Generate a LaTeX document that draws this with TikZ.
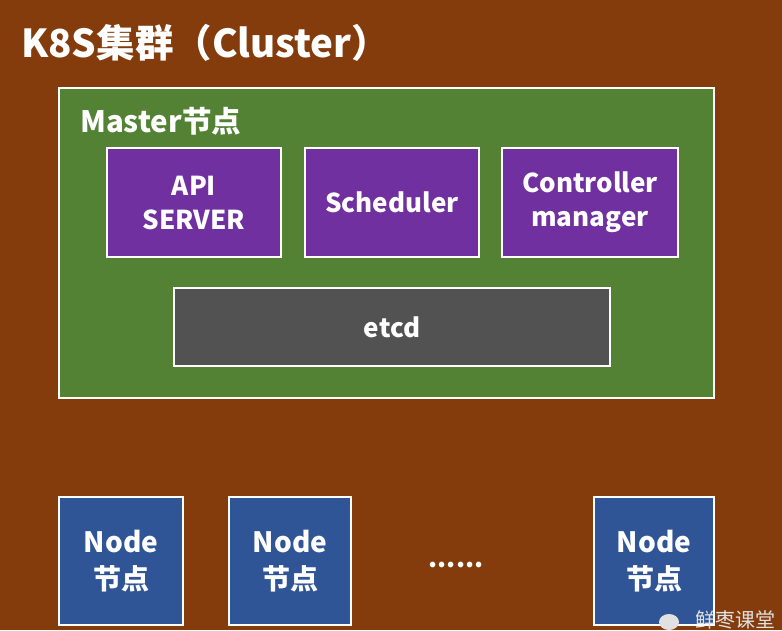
\documentclass[tikz,border=0pt]{standalone}
\usepackage{fontspec}
\setmainfont{Noto Sans CJK SC}
\definecolor{bgbrown}{RGB}{132,60,12}
\definecolor{mgreen}{RGB}{84,130,53}
\definecolor{mpurple}{RGB}{112,48,160}
\definecolor{mgray}{RGB}{82,82,82}
\definecolor{mblue}{RGB}{47,85,151}
\definecolor{wmark}{RGB}{225,225,225}
\begin{document}
\begin{tikzpicture}[x=1pt,y=-1pt,
  box/.style={draw=white, line width=2pt, text=white, align=center, inner sep=0pt,
    font=\bfseries\fontsize{26}{34}\selectfont},
  comp/.style={box, fill=mpurple, minimum height=109pt},
  worker/.style={box, fill=mblue, minimum height=128pt,
    font=\bfseries\fontsize{28}{37}\selectfont},
  lbl/.style={text=white, inner sep=0pt, anchor=base west}
]
\clip (0,0) rectangle (782,630);
\fill[bgbrown] (0,0) rectangle (782,630);
\node[lbl, font=\bfseries\fontsize{38.5}{42}\selectfont] (title) at (21,57) {K8S集群（Cluster）};
\node[box, fill=mgreen, minimum width=655pt, minimum height=310pt] (master) at (386.5,243) {};
\node[lbl, font=\bfseries\fontsize{29.5}{32}\selectfont] (mlabel) at (80,132) {Master节点};
\node[comp, minimum width=174pt] (api) at (194,202.5) {API\\SERVER};
\node[comp, minimum width=174pt] (sched) at (392,202.5) {Scheduler};
\node[comp, minimum width=176pt] (ctrl) at (590,202.5) {Controller\\manager};
\node[box, fill=mgray, minimum width=436pt, minimum height=78pt] (etcd) at (392,327) {etcd};
\node[worker, minimum width=124pt] (n1) at (121,561) {Node\\节点};
\node[worker, minimum width=122pt] (n2) at (290,561) {Node\\节点};
\node[worker, minimum width=120pt] (n3) at (654,561) {Node\\节点};
\node[text=white, font=\bfseries\fontsize{26}{30}\selectfont, inner sep=0pt] (dots) at (456,565) {......};
\fill[wmark] (669,622) ellipse (10pt and 8pt);
\node[lbl, text=wmark, font=\fontsize{20}{22}\selectfont] (wm) at (695,627) {鲜枣课堂};
\end{tikzpicture}
\end{document}
